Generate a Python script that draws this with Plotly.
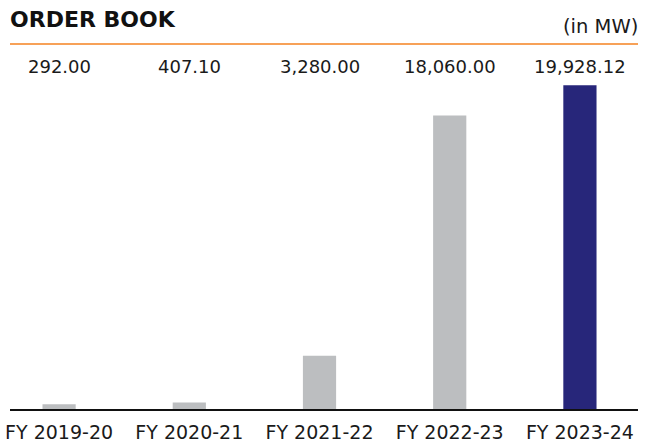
import plotly.graph_objects as go

# Order book by financial year (MW)
years = ["FY 2019-20", "FY 2020-21", "FY 2021-22", "FY 2022-23", "FY 2023-24"]
order_book = [292.00, 407.10, 3280.00, 18060.00, 19928.12]
value_labels = ["292.00", "407.10", "3,280.00", "18,060.00", "19,928.12"]

GREY = "#bcbec0"
NAVY = "#27267a"
ORANGE = "#f58220"
FONT = "DejaVu Sans"
TEXT = "#1a1a1a"

W, H = 655, 442
L, R, T, B = 10, 17, 84, 33
plot_w = W - L - R
plot_h = H - T - B
BASE = H - B


def px_x(px):
    return (px - L) / plot_w


def px_y(py):
    return (BASE - py) / plot_h


colors = [GREY] * (len(years) - 1) + [NAVY]
xs = list(range(len(years)))

fig = go.Figure(
    go.Bar(
        x=xs,
        y=order_book,
        marker=dict(color=colors, line=dict(width=0)),
        width=0.255,
        hoverinfo="skip",
    )
)

# value labels above the bars
for i, txt in enumerate(value_labels):
    fig.add_annotation(
        x=i, xref="x", y=px_y(67), yref="paper",
        text=txt, showarrow=False, xanchor="center", yanchor="middle",
        font=dict(family=FONT, size=18, color=TEXT),
    )

fig.add_annotation(
    x=px_x(8), xref="paper", y=px_y(19), yref="paper",
    text="<b>ORDER BOOK</b>", showarrow=False, xanchor="left", yanchor="middle",
    font=dict(family=FONT, size=22, color="#111111"),
)
fig.add_annotation(
    x=px_x(640), xref="paper", y=px_y(26), yref="paper",
    text="(in MW)", showarrow=False, xanchor="right", yanchor="middle",
    font=dict(family=FONT, size=19.5, color=TEXT),
)

# orange rule under the heading
fig.add_shape(
    type="line", xref="paper", yref="paper",
    x0=0, x1=1, y0=px_y(44), y1=px_y(44),
    line=dict(color=ORANGE, width=1.5),
)

fig.update_layout(
    width=W, height=H,
    margin=dict(l=L, r=R, t=T, b=B, pad=0),
    paper_bgcolor="white", plot_bgcolor="white",
    showlegend=False,
    xaxis=dict(
        range=[-0.377, 4.446], tickmode="array", tickvals=xs, ticktext=years,
        showgrid=False, zeroline=False, showline=True, linecolor="#111111", linewidth=1.5,
        ticks="", tickfont=dict(family=FONT, size=19, color=TEXT),
        ticklabelstandoff=5, automargin=False,
    ),
    yaxis=dict(range=[0, 20000], visible=False, showgrid=False, zeroline=False),
)

fig.write_html("out.html")
